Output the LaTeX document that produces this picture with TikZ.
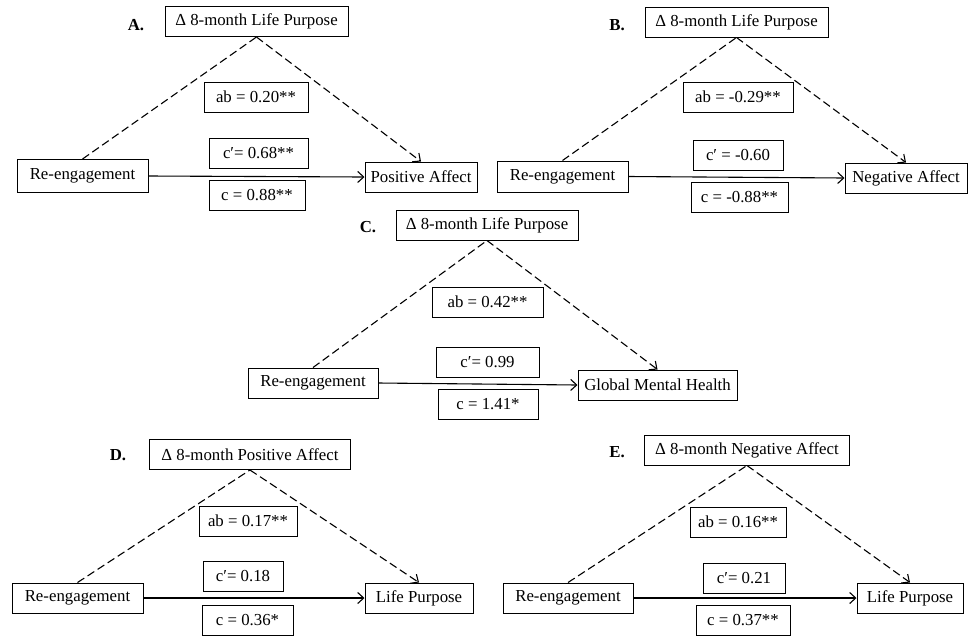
\documentclass[tikz,border=0pt]{standalone}
\usepackage{fontspec}
\setmainfont{Liberation Serif}
\usepackage{tikz}
\usetikzlibrary{positioning,arrows.meta}

\begin{document}
\begin{tikzpicture}[x=1pt,y=-1pt,
  box/.style={draw,line width=1pt,inner xsep=3pt,inner ysep=0pt,minimum height=30pt,font=\fontsize{16.8}{20}\selectfont},
  lbl/.style={font=\fontsize{16.8}{20}\selectfont\bfseries},
  path/.style={line width=1.1pt,dash pattern=on 8pt off 4pt},
  tip/.style={-{Straight Barb[length=6pt,width=11pt]}}]

  \useasboundingbox (0,0) rectangle (968,638);

  % A
  \node[lbl] (lblA) at (136,25) {A.};
  \node[box,minimum width=183pt] (medA) at (256.5,21.5) {Δ 8-month Life Purpose};
  \node[box,minimum width=104pt] (abA) at (256,97) {ab = 0.20**};
  \node[box,minimum width=99pt] (cpA) at (258.5,153.5) {c′= 0.68**};
  \node[box,minimum width=96pt] (cA) at (257,195.5) {c = 0.88**};
  \node[box,minimum width=131pt,minimum height=33pt] (reA) at (82.5,176) {Re-engagement};
  \node[box,minimum width=112pt] (outA) at (421,177) {Positive Affect};
  \draw[path] (reA.north) -- (medA.south);
  \draw[path,tip] (medA.south) -- (outA.north);
  \draw[line width=1.1pt,tip] (reA.east) -- (outA.west);

  % B
  \node[lbl] (lblB) at (617,25) {B.};
  \node[box,minimum width=183pt] (medB) at (736.5,22) {Δ 8-month Life Purpose};
  \node[box,minimum width=110pt] (abB) at (738,97) {ab = -0.29**};
  \node[box,minimum width=90pt] (cpB) at (738,155.5) {c′ = -0.60};
  \node[box,minimum width=97pt] (cB) at (739.5,197) {c = -0.88**};
  \node[box,minimum width=131pt,minimum height=31pt] (reB) at (562.5,176.5) {Re-engagement};
  \node[box,minimum width=122pt] (outB) at (906,178) {Negative Affect};
  \draw[path] (reB.north) -- (medB.south);
  \draw[path,tip] (medB.south) -- (outB.north);
  \draw[line width=1.1pt,tip] (reB.east) -- (outB.west);

  % C
  \node[lbl] (lblC) at (368,227) {C.};
  \node[box,minimum width=182pt] (medC) at (487,225) {Δ 8-month Life Purpose};
  \node[box,minimum width=111pt] (abC) at (487.5,302) {ab = 0.42**};
  \node[box,minimum width=103pt] (cpC) at (487.5,362.5) {c′= 0.99};
  \node[box,minimum width=100pt] (cC) at (488,404) {c = 1.41*};
  \node[box,minimum width=130pt] (reC) at (313,383) {Re-engagement};
  \node[box,minimum width=159pt] (outC) at (657.5,385) {Global Mental Health};
  \draw[path] (reC.north) -- (medC.south);
  \draw[path,tip] (medC.south) -- (outC.north);
  \draw[line width=1.1pt,tip] (reC.east) -- (outC.west);

  % D
  \node[lbl] (lblD) at (118,455) {D.};
  \node[box,minimum width=201pt] (medD) at (250,454.5) {Δ 8-month Positive Affect};
  \node[box,minimum width=98pt] (abD) at (248,521) {ab = 0.17**};
  \node[box,minimum width=80pt] (cpD) at (243,576) {c′= 0.18};
  \node[box,minimum width=91pt] (cD) at (247.5,620) {c = 0.36*};
  \node[box,minimum width=131pt] (reD) at (77.5,598) {Re-engagement};
  \node[box,minimum width=108pt] (outD) at (419,598) {Life Purpose};
  \draw[path] (reD.north) -- (medD.south);
  \draw[path,tip] (medD.south) -- (outD.north);
  \draw[line width=1.1pt,tip] (reD.east) -- (outD.west);

  % E
  \node[lbl] (lblE) at (617,452) {E.};
  \node[box,minimum width=205pt] (medE) at (747,450) {Δ 8-month Negative Affect};
  \node[box,minimum width=96pt] (abE) at (738,522) {ab = 0.16**};
  \node[box,minimum width=82pt] (cpE) at (744,578.5) {c′= 0.21};
  \node[box,minimum width=94pt] (cE) at (743,620.5) {c = 0.37**};
  \node[box,minimum width=130pt] (reE) at (568,598) {Re-engagement};
  \node[box,minimum width=106pt] (outE) at (910,598) {Life Purpose};
  \draw[path] (reE.north) -- (medE.south);
  \draw[path,tip] (medE.south) -- (outE.north);
  \draw[line width=1.1pt,tip] (reE.east) -- (outE.west);
\end{tikzpicture}
\end{document}
